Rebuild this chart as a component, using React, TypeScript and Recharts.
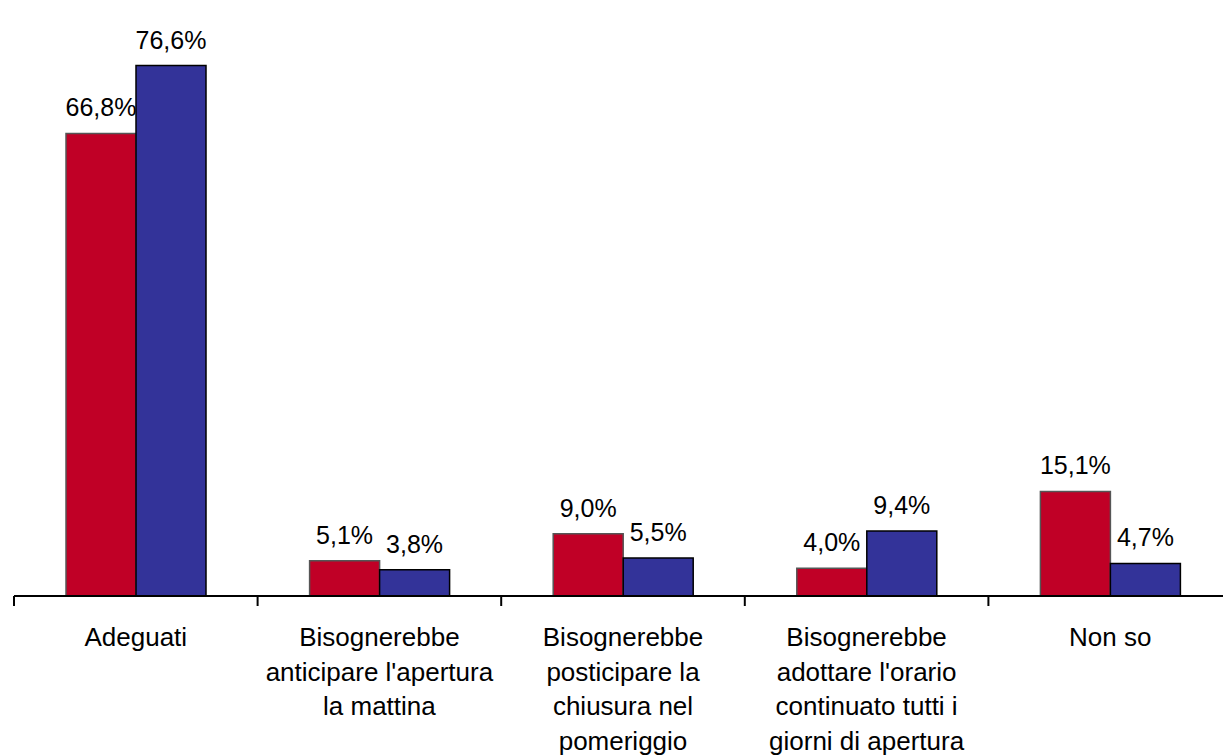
import { BarChart, Bar, XAxis, YAxis, LabelList } from 'recharts';

const CATEGORIES = [
  'Adeguati',
  "Bisognerebbe\nanticipare l'apertura\nla mattina",
  'Bisognerebbe\nposticipare la\nchiusura nel\npomeriggio',
  "Bisognerebbe\nadottare l'orario\ncontinuato tutti i\ngiorni di apertura",
  'Non so',
];
const SERIES_A = [66.8, 5.1, 9.0, 4.0, 15.1];
const SERIES_B = [76.6, 3.8, 5.5, 9.4, 4.7];

const data = CATEGORIES.map((name, i) => ({ name, a: SERIES_A[i], b: SERIES_B[i] }));

const FONT = '"Liberation Sans", Arial, sans-serif';
const W = 1240;
const MARGIN = { top: 42, right: 8, left: 14, bottom: 9 };
// width of one category band, used to put tick marks on the band edges
const STEP = (W - MARGIN.left - MARGIN.right) / CATEGORIES.length;

const fmt = (v: number) => `${v.toFixed(1).replace('.', ',')}%`;

const CategoryTick = ({ x, y, payload, index }: { x?: number; y?: number; payload?: { value: string }; index?: number }) => {
  const lines = (payload?.value ?? '').split('\n');
  const cx = x ?? 0;
  const top = (y ?? 0) - 8;
  return (
    <g>
      <line x1={cx - STEP / 2} x2={cx - STEP / 2} y1={top} y2={top + 10} stroke="#000" strokeWidth={2} />
      {index === CATEGORIES.length - 1 && (
        <line x1={cx + STEP / 2} x2={cx + STEP / 2} y1={top} y2={top + 10} stroke="#000" strokeWidth={2} />
      )}
      <text x={cx} y={top + 50} textAnchor="middle" fontSize={26} fontFamily={FONT} fill="#000">
        {lines.map((line, i) => (
          <tspan key={i} x={cx} dy={i === 0 ? 0 : 34.5}>{line}</tspan>
        ))}
      </text>
    </g>
  );
};

export default function App() {
  return (
    <div style={{ position: 'absolute', left: 0, top: 0, width: 1223, height: 755, overflow: 'hidden', background: '#fff' }}>
      <BarChart
        width={W}
        height={755}
        data={data}
        margin={MARGIN}
        barCategoryGap={52}
        barGap={0}
      >
        <XAxis
          dataKey="name"
          height={150}
          axisLine={{ stroke: '#000', strokeWidth: 2 }}
          tickLine={false}
          interval={0}
          tick={<CategoryTick />}
        />
        <YAxis hide domain={[0, 80]} />
        <Bar dataKey="a" fill="#C00026" stroke="#555" strokeWidth={1.5} barSize={70} isAnimationActive={false}>
          <LabelList dataKey="a" position="top" offset={17} formatter={fmt} fontSize={25} fontFamily={FONT} fill="#000" />
        </Bar>
        <Bar dataKey="b" fill="#333399" stroke="#000" strokeWidth={1.5} barSize={70} isAnimationActive={false}>
          <LabelList dataKey="b" position="top" offset={17} formatter={fmt} fontSize={25} fontFamily={FONT} fill="#000" />
        </Bar>
      </BarChart>
    </div>
  );
}
